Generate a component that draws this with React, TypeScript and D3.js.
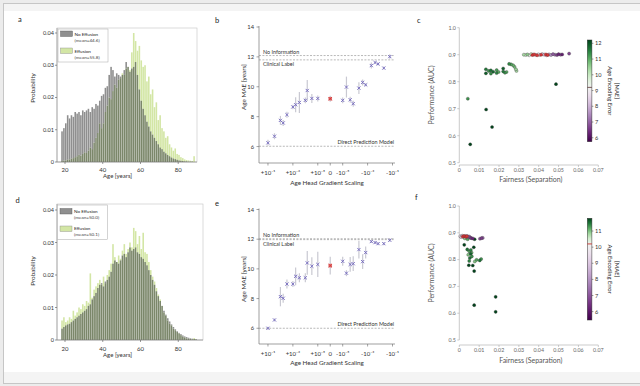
import React from "react";
import * as d3 from "d3";

const FONT = "Lato, 'Open Sans', sans-serif";

// ---------- Histogram data (1-year bins starting at these ages) ----------
const AGE_BINS = d3.range(18, 90);
const histA_noEffusion = [
  0.0095, 0.0105, 0.012, 0.0145, 0.0135, 0.0145, 0.014, 0.0155, 0.015, 0.0155,
  0.0145, 0.016, 0.0155, 0.016, 0.0165, 0.0155, 0.017, 0.0165, 0.018, 0.0175,
  0.019, 0.0205, 0.021, 0.023, 0.0235, 0.027, 0.0295, 0.0285, 0.0265, 0.0275,
  0.027, 0.0265, 0.027, 0.0285, 0.031, 0.0295, 0.028, 0.029, 0.0295, 0.031,
  0.027, 0.0225, 0.019, 0.0165, 0.0145, 0.0125, 0.011, 0.0095, 0.0085, 0.0075,
  0.0065, 0.0055, 0.0045, 0.004, 0.0032, 0.0027, 0.0022, 0.0018, 0.0014, 0.0011,
  0.0009, 0.0007, 0.0005, 0.0004, 0.0003, 0.0002, 0.0002, 0.0001, 0.0001, 0.0001,
  0, 0,
];
const histA_effusion = [
  0.0003, 0.0004, 0.0005, 0.0007, 0.0008, 0.001, 0.0012, 0.0015, 0.0018, 0.0022,
  0.002, 0.0025, 0.003, 0.0028, 0.0035, 0.0045, 0.004, 0.006, 0.0075, 0.009,
  0.012, 0.0105, 0.012, 0.0155, 0.0175, 0.02, 0.0195, 0.022, 0.024, 0.023,
  0.0255, 0.026, 0.0275, 0.027, 0.029, 0.0295, 0.0285, 0.034, 0.04, 0.0375,
  0.0345, 0.036, 0.0315, 0.0295, 0.03, 0.025, 0.0265, 0.021, 0.0225, 0.017,
  0.0185, 0.013, 0.0145, 0.0105, 0.0095, 0.0075, 0.008, 0.0055, 0.0045, 0.0035,
  0.0042, 0.0025, 0.0022, 0.0015, 0.0012, 0.0008, 0.0006, 0.0005, 0.0004, 0.0003,
  0.0018, 0,
];
const histD_noEffusion = [
  0.0035, 0.004, 0.0045, 0.0048, 0.005, 0.0055, 0.006, 0.0065, 0.007, 0.0075,
  0.008, 0.0085, 0.009, 0.0095, 0.0105, 0.011, 0.0125, 0.0135, 0.0145, 0.016,
  0.017, 0.0175, 0.0165, 0.018, 0.0185, 0.0195, 0.021, 0.0235, 0.0245, 0.024,
  0.0235, 0.0245, 0.026, 0.0265, 0.0255, 0.027, 0.0285, 0.0275, 0.028, 0.0285,
  0.027, 0.0265, 0.0255, 0.025, 0.024, 0.023, 0.0215, 0.02, 0.0185, 0.017,
  0.015, 0.0135, 0.012, 0.0105, 0.009, 0.0078, 0.0067, 0.0057, 0.0048, 0.004,
  0.0033, 0.0027, 0.0022, 0.0018, 0.0014, 0.0011, 0.0009, 0.0007, 0.0005, 0.0004,
  0.0003, 0.0003,
];
const histD_effusion = [
  0.006, 0.007, 0.0055, 0.006, 0.007, 0.0065, 0.009, 0.0075, 0.0085, 0.01,
  0.0095, 0.011, 0.0105, 0.012, 0.0115, 0.0205, 0.013, 0.0155, 0.0165, 0.0175,
  0.0185, 0.017, 0.0195, 0.0175, 0.02, 0.0215, 0.0235, 0.0295, 0.0255, 0.024,
  0.026, 0.025, 0.0275, 0.0295, 0.0265, 0.028, 0.03, 0.0285, 0.0345, 0.0335,
  0.0295, 0.032, 0.028, 0.033, 0.027, 0.0265, 0.024, 0.0215, 0.0195, 0.018,
  0.016, 0.014, 0.0125, 0.0105, 0.0085, 0.0075, 0.006, 0.005, 0.0045, 0.0035,
  0.003, 0.0025, 0.002, 0.0015, 0.001, 0.0008, 0.0005, 0.0004, 0.0003, 0.0002,
  0.0006, 0.0002,
];
const legendA = ["No Effusion", "(mean=44.6)", "Effusion", "(mean=55.8)"];
const legendD = ["No Effusion", "(mean=50.0)", "Effusion", "(mean=50.1)"];
const probTicks = [0, 0.01, 0.02, 0.03, 0.04];
const probTickLabels = ["0", "0.01", "0.02", "0.03", "0.04"];
const ageTicks = [20, 40, 60, 80];

// ---------- Age MAE vs gradient scaling ----------
const gradScaling = [
  1e-1, 3e-2, 1e-2, 6e-3, 3e-3, 1e-3, 6e-4, 3e-4, 1e-4, 7e-5, 3e-5, 1e-5, 0,
  -1e-5, -2e-5, -4e-5, -7e-5, -2e-4, -4e-4, -7e-4, -2e-3, -4e-3, -7e-3, -2e-2, -6e-2,
];
const maeB = [6.25, 6.69, 7.75, 7.58, 8.13, 8.65, 8.8, 8.95, 9.09, 9.75, 9.22, 9.22, 9.2,
  9.09, 9.98, 9.13, 8.87, 9.91, 10.29, 10.13, 11.42, 11.62, 11.53, 11.25, 12.02];
const errB = [0.2, 0.2, 0.3, 0.2, 0.2, 0.15, 0.5, 0.7, 0.2, 0.7, 0.3, 0.2, 0.2,
  0.2, 0.7, 0.2, 0.2, 0.4, 0.2, 0.1, 0.2, 0.1, 0.1, 0.1, 0.15];
const maeE = [6.0, 6.56, 8.13, 8.02, 8.98, 8.98, 9.5, 9.4, 9.4, 10.4, 10.18, 10.3, 10.22,
  10.51, 9.71, 10.3, 10.35, 11.3, 10.49, 11.1, 11.84, 11.77, 11.7, 11.7, 11.93];
const errE = [0.1, 0.1, 0.65, 0.3, 0.3, 0.2, 0.6, 0.3, 0.3, 0.8, 0.6, 0.85, 0.6,
  0.3, 0.2, 0.5, 0.5, 0.6, 0.5, 0.4, 0.1, 0.1, 0.1, 0.1, 0.1];
const refB = [12.09, 11.8, 6.02]; // No Information, Clinical Label, Direct Prediction Model
const refE = [12.03, 11.97, 6.0];
const refLabels = ["No Information", "Clinical Label", "Direct Prediction Model"];
const gradTickValues = [1e-1, 1e-3, 1e-5, 0, -1e-5, -1e-3, -1e-1];
const gradTickLabels = ["+10⁻¹", "+10⁻³", "+10⁻⁵", "0", "-10⁻⁵", "-10⁻³", "-10⁻¹"];
const maeTicks = [6, 8, 10, 12, 14];

// ---------- Fairness vs performance ----------
const cFair = [0.0043, 0.0055, 0.0135, 0.0165, 0.0487,
  0.0134, 0.0134, 0.0148, 0.0159, 0.0159, 0.0171, 0.0188, 0.0188, 0.0198, 0.0221, 0.0221,
  0.023, 0.0238, 0.0251, 0.0261, 0.0271, 0.0278, 0.0285, 0.0288,
  0.0325, 0.0335, 0.0343, 0.0352, 0.0362, 0.0372, 0.0385, 0.0398, 0.0405, 0.0418, 0.0428,
  0.044, 0.0452, 0.0462, 0.0472, 0.0482, 0.0492, 0.05, 0.051, 0.0518, 0.0553];
const cAUC = [0.737, 0.568, 0.697, 0.632, 0.791,
  0.846, 0.831, 0.84, 0.842, 0.83, 0.837, 0.843, 0.832, 0.836, 0.849, 0.838,
  0.833, 0.836, 0.866, 0.864, 0.861, 0.855, 0.846, 0.84,
  0.9, 0.899, 0.901, 0.898, 0.902, 0.9, 0.899, 0.901, 0.899, 0.902, 0.9,
  0.898, 0.901, 0.899, 0.902, 0.9, 0.899, 0.902, 0.9, 0.901, 0.904];
const cMAE = [11.3, 12.2, 12.2, 12.2, 12.2,
  11.6, 11.9, 11.3, 11.7, 11.4, 11.8, 11.2, 11.5, 11.0, 11.9, 11.6,
  11.3, 11.0, 11.4, 11.1, 10.9, 10.8, 10.5, 10.3,
  10.4, 9.6, 10.6, 9.3, 10.0, 9.4, 9.0, 8.8, 9.1, 8.6, 8.4,
  8.2, 7.8, 7.6, 6.9, 7.3, 6.6, 6.3, 6.8, 6.2, 6.7];
const cBaseFair = [0.0368, 0.0378, 0.0392, 0.0412, 0.0436, 0.0445];
const cBaseAUC = [0.899, 0.901, 0.898, 0.9, 0.901, 0.899];

const fFair = [0.0005, 0.001, 0.0015, 0.002, 0.0025, 0.003, 0.0035, 0.004, 0.0045, 0.005,
  0.0055, 0.006, 0.0068, 0.0104, 0.0112, 0.0118, 0.0042, 0.0028,
  0.0025, 0.0077, 0.0073, 0.0048, 0.0068, 0.0075, 0.0075, 0.0183, 0.0183,
  0.004, 0.005, 0.0058, 0.0045, 0.0057, 0.0063, 0.0053, 0.0062, 0.005, 0.0087, 0.0103, 0.011, 0.0078];
const fAUC = [0.887, 0.884, 0.889, 0.886, 0.883, 0.888, 0.885, 0.888, 0.884, 0.886,
  0.882, 0.88, 0.879, 0.878, 0.88, 0.881, 0.876, 0.879,
  0.855, 0.876, 0.846, 0.779, 0.778, 0.757, 0.63, 0.661, 0.605,
  0.838, 0.831, 0.836, 0.818, 0.822, 0.812, 0.806, 0.826, 0.795, 0.799, 0.797, 0.802, 0.793];
const fMAE = [9.6, 9.3, 9.0, 8.8, 9.5, 8.5, 8.9, 8.0, 7.6, 7.2,
  6.8, 6.5, 6.2, 7.0, 6.6, 7.4, 11.2, 10.9,
  11.8, 11.8, 11.8, 11.8, 11.8, 11.8, 11.8, 11.8, 11.8,
  11.5, 11.2, 11.4, 11.0, 11.6, 11.3, 11.5, 11.1, 11.4, 11.2, 11.5, 11.3, 11.0];
const fBaseFair = [0.0018, 0.0025, 0.0032, 0.0038];
const fBaseAUC = [0.886, 0.888, 0.885, 0.887];

const fairTicks = [0, 0.01, 0.02, 0.03, 0.04, 0.05, 0.06, 0.07];
const fairTickLabels = ["0", "0.01", "0.02", "0.03", "0.04", "0.05", "0.06", "0.07"];
const aucTicks = [0.5, 0.6, 0.7, 0.8, 0.9, 1.0];
const aucTickLabels = ["0.5", "0.6", "0.7", "0.8", "0.9", "1.0"];
const cbarTicksC = [6, 7, 8, 9, 10, 11, 12];
const cbarTicksF = [6, 7, 8, 9, 10, 11];

// ---------- colours ----------
const GRAY = "#8f8f8f";
const GREEN = "#d3e6a5";
const OVERLAP = "#7b876a";

// ---------- components ----------
type Frame = { l: number; r: number; t: number; b: number };

function Letter({ x, y, t }: { x: number; y: number; t: string }) {
  return (
    <text x={x} y={y} fontSize={7.5} fill="#222" fontFamily={FONT}>
      {t}
    </text>
  );
}

function HistPanel(props: {
  f: Frame; xMax: number; yMax: number; gray: number[]; green: number[];
  legend: string[]; lg: { x: number; y: number; h: number; t1: number; t2: number; t3: number; t4: number; s1: number; s2: number };
  tickY: number; titleY: number; ylabY: number;
}) {
  const { f, xMax, yMax, gray, green, legend, lg } = props;
  const x = d3.scaleLinear().domain([15.76, xMax]).range([f.l, f.r]);
  const y = d3.scaleLinear().domain([0, yMax]).range([f.b, f.t]);
  return (
    <g fontFamily={FONT}>
      <rect x={f.l} y={f.t} width={f.r - f.l} height={f.b - f.t} fill="#fff" stroke="#c4c4c4" strokeWidth={0.6} />
      {AGE_BINS.map((a, i) => {
        const g = gray[i], e = green[i];
        const lo = Math.min(g, e), hi = Math.max(g, e);
        const bx = x(a), bw = x(a + 1) - x(a) - 0.3;
        return (
          <g key={a}>
            {hi > lo && (
              <rect x={bx} width={bw} y={y(hi)} height={y(lo) - y(hi)} fill={g > e ? GRAY : GREEN} />
            )}
            {lo > 0 && <rect x={bx} width={bw} y={y(lo)} height={f.b - y(lo)} fill={OVERLAP} />}
          </g>
        );
      })}
      <line x1={f.l} x2={f.r} y1={f.b} y2={f.b} stroke="#777" strokeWidth={0.6} />
      <line x1={f.l} x2={f.l} y1={f.t} y2={f.b} stroke="#888" strokeWidth={0.6} />
      {probTicks.map((t, i) => (
        <g key={t}>
          <line x1={f.l - 2} x2={f.l} y1={y(t)} y2={y(t)} stroke="#555" strokeWidth={0.6} />
          <text x={f.l - 3} y={y(t) + 2} fontSize={5.6} textAnchor="end" fill="#333">{probTickLabels[i]}</text>
        </g>
      ))}
      {ageTicks.map((t) => (
        <g key={t}>
          <line x1={x(t)} x2={x(t)} y1={f.b} y2={f.b + 2} stroke="#555" strokeWidth={0.6} />
          <text x={x(t)} y={props.tickY} fontSize={6} textAnchor="middle" fill="#333">{t}</text>
        </g>
      ))}
      <text x={(x(20) + x(80)) / 2 - 4} y={props.titleY} fontSize={6} textAnchor="middle" fill="#333">Age [years]</text>
      <text transform={`translate(35,${props.ylabY}) rotate(-90)`} fontSize={6.3} textAnchor="middle" fill="#333">Probability</text>
      {/* legend */}
      <rect x={lg.x} y={lg.y} width={50} height={lg.h} fill="#fff" stroke="#a8a8a8" strokeWidth={0.5} />
      <rect x={lg.x + 2.5} y={lg.s1} width={12} height={5.5} fill={GRAY} stroke="#555" strokeWidth={0.4} />
      <rect x={lg.x + 2.5} y={lg.s2} width={12} height={5.5} fill={GREEN} stroke="#888" strokeWidth={0.4} />
      <text x={lg.x + 16.5} y={lg.t1} fontSize={4.6} fill="#222">{legend[0]}</text>
      <text x={lg.x + 16.5} y={lg.t2} fontSize={4.6} fill="#444">{legend[1]}</text>
      <text x={lg.x + 16.5} y={lg.t3} fontSize={4.6} fill="#222">{legend[2]}</text>
      <text x={lg.x + 16.5} y={lg.t4} fontSize={4.6} fill="#444">{legend[3]}</text>
    </g>
  );
}

const gradPos = (s: number) => (s === 0 ? 0 : -Math.sign(s) * (Math.log10(Math.abs(s)) + 6));

function MaePanel(props: {
  top: number; bottom: number; yMin: number; mae: number[]; err: number[]; refs: number[];
  tickY: number; titleY: number; ylabY: number;
}) {
  const { top, bottom, yMin, mae, err, refs } = props;
  const l = 259, r = 395;
  const x = d3.scaleLinear().domain([-5.72, 5.2]).range([l, r]);
  const y = d3.scaleLinear().domain([yMin, 14]).range([bottom, top]);
  const col = "#7065bd";
  return (
    <g fontFamily={FONT}>
      {refs.map((v, i) => (
        <line key={i} x1={l} x2={r} y1={y(v)} y2={y(v)} stroke="#8a8a8a" strokeWidth={0.6} strokeDasharray="2,1.4" />
      ))}
      <text x={l + 4} y={y(refs[0]) - 1.8} fontSize={5.4} fill="#333">{refLabels[0]}</text>
      <text x={l + 4} y={y(refs[1]) + 6} fontSize={5.4} fill="#333">{refLabels[1]}</text>
      <text x={r - 1} y={y(refs[2]) - 1.8} fontSize={5.4} fill="#333" textAnchor="end">{refLabels[2]}</text>
      {gradScaling.map((s, i) => (
        <line key={"e" + i} x1={x(gradPos(s))} x2={x(gradPos(s))} y1={y(mae[i] - err[i])} y2={y(mae[i] + err[i])}
          stroke="#c9c9d2" strokeWidth={1.2} />
      ))}
      {gradScaling.map((s, i) => {
        const cx = x(gradPos(s)), cy = y(mae[i]);
        const c = s === 0 ? "#d23a3a" : col;
        return (
          <g key={"m" + i} stroke={c} strokeWidth={0.9}>
            {s === 0 && <rect x={cx - 1.8} y={cy - 1.8} width={3.6} height={3.6} fill="#e07070" stroke="none" />}
            <line x1={cx - 1.6} x2={cx + 1.6} y1={cy - 1.6} y2={cy + 1.6} />
            <line x1={cx - 1.6} x2={cx + 1.6} y1={cy + 1.6} y2={cy - 1.6} />
          </g>
        );
      })}
      <line x1={l} x2={l} y1={top - 1} y2={bottom} stroke="#777" strokeWidth={0.7} />
      <line x1={l} x2={r} y1={bottom} y2={bottom} stroke="#777" strokeWidth={0.7} />
      {maeTicks.map((t) => (
        <g key={t}>
          <line x1={l - 2.5} x2={l} y1={y(t)} y2={y(t)} stroke="#666" strokeWidth={0.6} />
          <text x={l - 5} y={y(t) + 2} fontSize={5.8} textAnchor="end" fill="#333">{t}</text>
        </g>
      ))}
      {gradTickValues.map((t, i) => (
        <g key={i}>
          <line x1={x(gradPos(t))} x2={x(gradPos(t))} y1={bottom} y2={bottom + 2.5} stroke="#666" strokeWidth={0.6} />
          <text x={x(gradPos(t))} y={props.tickY} fontSize={6} textAnchor="middle" fill="#333">{gradTickLabels[i]}</text>
        </g>
      ))}
      <text x={327} y={props.titleY} fontSize={6.3} textAnchor="middle" fill="#333">Age Head Gradient Scaling</text>
      <text transform={`translate(${246},${props.ylabY}) rotate(-90)`} fontSize={6.3} textAnchor="middle" fill="#333">Age MAE [years]</text>
    </g>
  );
}

function ScatterPanel(props: {
  top: number; bottom: number; axisY: number; fair: number[]; auc: number[]; mae: number[];
  baseFair: number[]; baseAUC: number[]; cb: { t: number; b: number; min: number; mid: number; max: number; ticks: number[]; lineColor: string };
  id: string; tickY: number; titleY: number; ylabY: number;
}) {
  const { top, bottom, axisY, fair, auc, mae, baseFair, baseAUC, cb, id } = props;
  const l = 459.3, r = 598.3;
  const x = d3.scaleLinear().domain([0, 0.07]).range([l, r]);
  const y = d3.scaleLinear().domain([0.5, 1.0]).range([bottom, top]);
  const color = d3.scaleDiverging(d3.interpolatePRGn).domain([cb.min, cb.mid, cb.max]);
  const cy = d3.scaleLinear().domain([cb.min, cb.max]).range([cb.b, cb.t]);
  const cbx = 587.3, cbw = 4.6;
  const stops = d3.range(0, 1.0001, 0.05).map((o) => cb.min + o * (cb.max - cb.min));
  const order = d3.range(fair.length).sort((a, b) => Math.abs(mae[a] - cb.mid) - Math.abs(mae[b] - cb.mid));
  return (
    <g fontFamily={FONT}>
      <defs>
        <linearGradient id={id} x1="0" y1="1" x2="0" y2="0">
          {stops.map((v, i) => (
            <stop key={i} offset={(v - cb.min) / (cb.max - cb.min)} stopColor={color(v)} />
          ))}
        </linearGradient>
      </defs>
      <line x1={l} x2={l} y1={top} y2={bottom} stroke="#b5b5b5" strokeWidth={0.7} />
      <line x1={l} x2={r} y1={axisY} y2={axisY} stroke="#b5b5b5" strokeWidth={0.7} />
      {aucTicks.map((t, i) => (
        <g key={t}>
          <line x1={l - 2} x2={l} y1={y(t)} y2={y(t)} stroke="#aaa" strokeWidth={0.6} />
          <text x={l - 3.5} y={y(t) + 1.8} fontSize={5.3} textAnchor="end" fill="#666">{aucTickLabels[i]}</text>
        </g>
      ))}
      {fairTicks.map((t, i) => (
        <g key={t}>
          <line x1={x(t)} x2={x(t)} y1={axisY} y2={axisY + 2} stroke="#aaa" strokeWidth={0.6} />
          <text x={x(t)} y={props.tickY} fontSize={5.3} textAnchor="middle" fill="#666">{fairTickLabels[i]}</text>
        </g>
      ))}
      <text x={x(0.035) + 2} y={props.titleY} fontSize={7} textAnchor="middle" fill="#555">Fairness (Separation)</text>
      <text transform={`translate(${434},${props.ylabY}) rotate(-90)`} fontSize={7} textAnchor="middle" fill="#555">Performance (AUC)</text>
      {order.map((i) => (
        <circle key={i} cx={x(fair[i])} cy={y(auc[i])} r={1.55} fill={color(mae[i])} stroke="#3a3a3a" strokeWidth={0.35} />
      ))}
      {baseFair.map((f, i) => (
        <circle key={"b" + i} cx={x(f)} cy={y(baseAUC[i])} r={1.55} fill="#d0383a" stroke="#7a2020" strokeWidth={0.35} />
      ))}
      {/* colorbar */}
      <rect x={cbx} y={cb.t} width={cbw} height={cb.b - cb.t} fill={`url(#${id})`} stroke="#333" strokeWidth={0.5} />
      <line x1={cbx} x2={cbx + cbw} y1={cy(cb.mid)} y2={cy(cb.mid)} stroke={cb.lineColor} strokeWidth={0.9} />
      {cb.ticks.map((t) => (
        <g key={t}>
          <line x1={cbx + cbw} x2={cbx + cbw + 1.5} y1={cy(t)} y2={cy(t)} stroke="#333" strokeWidth={0.5} />
          <text x={cbx + cbw + 3} y={cy(t) + 2} fontSize={5.6} fill="#333">{t}</text>
        </g>
      ))}
      <text transform={`translate(${608},${(cb.t + cb.b) / 2}) rotate(90)`} fontSize={5.8} textAnchor="middle" fill="#222">Age Encoding Error</text>
      <text transform={`translate(${615},${(cb.t + cb.b) / 2}) rotate(90)`} fontSize={5.8} textAnchor="middle" fill="#222">[MAE]</text>
    </g>
  );
}

export default function App() {
  return (
    <svg width={640} height={386} viewBox="0 0 640 386"
      style={{ position: "absolute", left: 0, top: 0, display: "block" }}>
      <rect x={0} y={0} width={640} height={386} fill="#ececec" />
      <rect x={3.5} y={3.5} width={640} height={380} fill="#f4f4f4" stroke="#c6c6c6" strokeWidth={1} />
      <rect x={4} y={11} width={636} height={361} fill="#ffffff" />

      <Letter x={18} y={22} t="a" />
      <Letter x={215} y={22.5} t="b" />
      <Letter x={417} y={22.5} t="c" />
      <Letter x={15.5} y={203} t="d" />
      <Letter x={215} y={206} t="e" />
      <Letter x={415} y={200} t="f" />

      <HistPanel f={{ l: 57, r: 197, t: 28, b: 162 }} xMax={89.96} yMax={0.04155}
        gray={histA_noEffusion} green={histA_effusion} legend={legendA}
        lg={{ x: 58, y: 29, h: 33, s1: 31, s2: 48, t1: 35.5, t2: 42, t3: 52.5, t4: 59 }}
        tickY={171.5} titleY={178} ylabY={88} />
      <HistPanel f={{ l: 57, r: 203, t: 204, b: 340 }} xMax={93.1} yMax={0.04185}
        gray={histD_noEffusion} green={histD_effusion} legend={legendD}
        lg={{ x: 57.5, y: 205, h: 34.5, s1: 208.5, s2: 226, t1: 212.5, t2: 219, t3: 230, t4: 236 }}
        tickY={351} titleY={357} ylabY={271} />

      <MaePanel top={27} bottom={163} yMin={4.9} mae={maeB} err={errB} refs={refB}
        tickY={175} titleY={185} ylabY={87} />
      <MaePanel top={209.5} bottom={344} yMin={4.94} mae={maeE} err={errE} refs={refE}
        tickY={355.5} titleY={365} ylabY={279} />

      <ScatterPanel id="cbC" top={27.7} bottom={162.7} axisY={165} fair={cFair} auc={cAUC} mae={cMAE}
        baseFair={cBaseFair} baseAUC={cBaseAUC}
        cb={{ t: 40, b: 141.7, min: 5.75, mid: 9.2, max: 12.21, ticks: cbarTicksC, lineColor: "#6b4a4a" }}
        tickY={172} titleY={182} ylabY={95} />
      <ScatterPanel id="cbF" top={206} bottom={340} axisY={345} fair={fFair} auc={fAUC} mae={fMAE}
        baseFair={fBaseFair} baseAUC={fBaseAUC}
        cb={{ t: 218.3, b: 320, min: 5.48, mid: 10.2, max: 11.79, ticks: cbarTicksF, lineColor: "#c8302c" }}
        tickY={352} titleY={363} ylabY={273} />
    </svg>
  );
}
